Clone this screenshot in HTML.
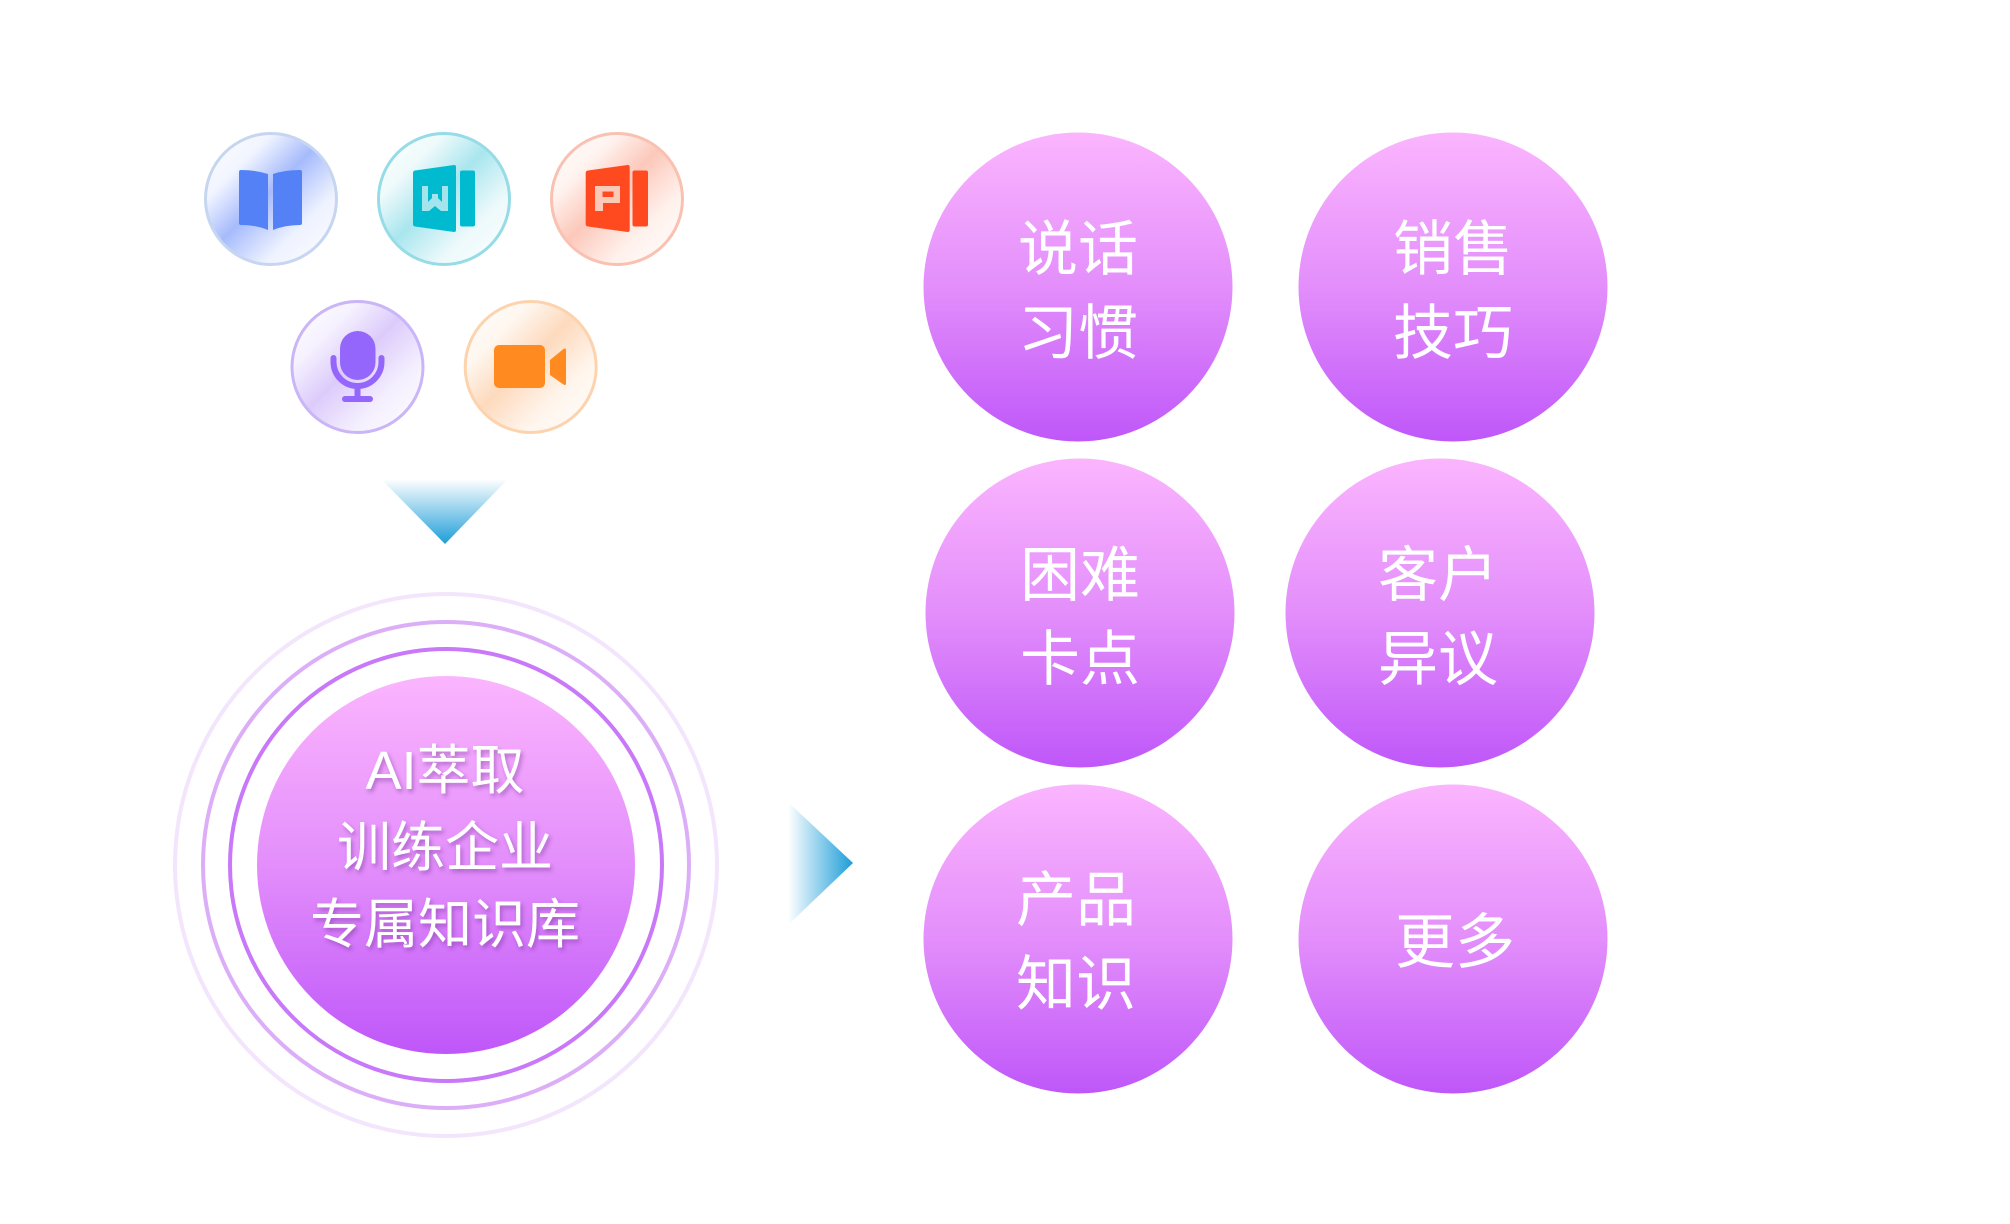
<!DOCTYPE html>
<html>
<head>
<meta charset="utf-8">
<style>
  html, body { margin: 0; padding: 0; background: #ffffff; }
  body { width: 2010px; height: 1224px; overflow: hidden; }
  svg { display: block; }
  .t { font-family: "Liberation Sans", "Noto Sans CJK SC", "WenQuanYi Zen Hei", sans-serif; fill: #ffffff; text-anchor: middle; }
</style>
</head>
<body>
<svg width="2010" height="1224" viewBox="0 0 2010 1224" xmlns="http://www.w3.org/2000/svg">
  <defs>
    <linearGradient id="pg" x1="0" y1="0" x2="0" y2="1">
      <stop offset="0" stop-color="#fbb5fe"/>
      <stop offset="0.5" stop-color="#e38efb"/>
      <stop offset="1" stop-color="#bf57f9"/>
    </linearGradient>
    <linearGradient id="dg" x1="0" y1="0" x2="0" y2="1">
      <stop offset="0" stop-color="#ffffff"/>
      <stop offset="1" stop-color="#1e9ed8"/>
    </linearGradient>
    <linearGradient id="rg" x1="0" y1="0" x2="1" y2="0">
      <stop offset="0" stop-color="#ffffff"/>
      <stop offset="1" stop-color="#1c9dd8"/>
    </linearGradient>
    <linearGradient id="gBlue" x1="0" y1="0" x2="1" y2="1">
      <stop offset="0" stop-color="#ffffff"/>
      <stop offset="0.25" stop-color="#f2f5ff"/>
      <stop offset="0.47" stop-color="#a6bbfc"/>
      <stop offset="0.72" stop-color="#eef2ff"/>
      <stop offset="1" stop-color="#ffffff"/>
    </linearGradient>
    <linearGradient id="gCyan" x1="0" y1="0" x2="1" y2="1">
      <stop offset="0" stop-color="#ffffff"/>
      <stop offset="0.25" stop-color="#effafb"/>
      <stop offset="0.47" stop-color="#a9e6ee"/>
      <stop offset="0.72" stop-color="#ecf9fb"/>
      <stop offset="1" stop-color="#ffffff"/>
    </linearGradient>
    <linearGradient id="gRed" x1="0" y1="0" x2="1" y2="1">
      <stop offset="0" stop-color="#ffffff"/>
      <stop offset="0.25" stop-color="#fff3ef"/>
      <stop offset="0.47" stop-color="#fcc8ba"/>
      <stop offset="0.72" stop-color="#fff1ec"/>
      <stop offset="1" stop-color="#ffffff"/>
    </linearGradient>
    <linearGradient id="gPurple" x1="0" y1="0" x2="1" y2="1">
      <stop offset="0" stop-color="#ffffff"/>
      <stop offset="0.25" stop-color="#f6f2ff"/>
      <stop offset="0.47" stop-color="#dccbfb"/>
      <stop offset="0.72" stop-color="#f4effe"/>
      <stop offset="1" stop-color="#ffffff"/>
    </linearGradient>
    <linearGradient id="gOrange" x1="0" y1="0" x2="1" y2="1">
      <stop offset="0" stop-color="#ffffff"/>
      <stop offset="0.25" stop-color="#fff7f0"/>
      <stop offset="0.47" stop-color="#fddabd"/>
      <stop offset="0.72" stop-color="#fff5ec"/>
      <stop offset="1" stop-color="#ffffff"/>
    </linearGradient>
    <filter id="sh" x="-20%" y="-20%" width="140%" height="140%">
      <feDropShadow dx="2" dy="3" stdDeviation="2" flood-color="#6a2a90" flood-opacity="0.45"/>
    </filter>
  </defs>

  <!-- Book -->
  <circle cx="271" cy="199" r="65.5" fill="url(#gBlue)" stroke="#c6d6f0" stroke-width="3"/>
  <path d="M241,170 Q256,170 268,174 L268,230 Q256,225 241,225 Q239,225 239,223 L239,172 Q239,170 241,170 Z" fill="#5482f6"/>
  <path d="M273,174 Q285,170 300,170 Q302,170 302,172 L302,223 Q302,225 300,225 Q285,225 273,230 Z" fill="#5482f6"/>

  <!-- Word -->
  <circle cx="444" cy="199" r="65.5" fill="url(#gCyan)" stroke="#96dce7" stroke-width="3"/>
  <path d="M415,170.5 L454,165 Q456,164.8 456,167 L456,230 Q456,232 454,232 L415,226.5 Q413,226.3 413,224 L413,173 Q413,170.8 415,170.5 Z" fill="#00bbd0"/>
  <rect x="460" y="170.5" width="15" height="56" rx="2" fill="#00bbd0"/>
  <path d="M422,186 h6 v16 l4,-4 v-4 h6 v4 l4,4 v-16 h6 v25 h-7 l-6,-5 l-6,5 h-7 z" fill="#a4e4ec"/>

  <!-- PPT -->
  <circle cx="617" cy="199" r="65.5" fill="url(#gRed)" stroke="#f9c1b2" stroke-width="3"/>
  <path d="M588,170.5 L627.5,165 Q629.7,164.8 629.7,167 L629.7,230 Q629.7,232 627.5,232 L588,226.5 Q585.7,226.3 585.7,224 L585.7,173 Q585.7,170.8 588,170.5 Z" fill="#ff4a20"/>
  <rect x="632.5" y="170.5" width="15.5" height="56" rx="2" fill="#ff4a20"/>
  <path d="M595,186 h25 v17 h-17 v8 h-8 z M602.5,191.5 v5.5 h11 v-5.5 z" fill="#fcc8b8" fill-rule="evenodd"/>

  <!-- Mic -->
  <circle cx="357.5" cy="367" r="65.5" fill="url(#gPurple)" stroke="#c9b5f7" stroke-width="3"/>
  <rect x="340" y="331" width="35.5" height="49" rx="17.7" fill="#9566fb"/>
  <path d="M333.5,358 v4 a24,24 0 0 0 48,0 v-4" fill="none" stroke="#9566fb" stroke-width="6" stroke-linecap="round"/>
  <rect x="354.5" y="386" width="6" height="12" fill="#9566fb"/>
  <rect x="342" y="396" width="31" height="6" rx="3" fill="#9566fb"/>

  <!-- Video -->
  <circle cx="530.7" cy="367" r="65.5" fill="url(#gOrange)" stroke="#fdd3ae" stroke-width="3"/>
  <rect x="494" y="345" width="51" height="43" rx="5" fill="#ff8a1f"/>
  <path d="M550,360 L563.5,349 Q566,347.5 566,350.5 L566,383 Q566,386 563.5,384.5 L550,375 Z" fill="#ff8a1f"/>

  <!-- Down triangle -->
  <polygon points="381,479 508,479 445,544" fill="url(#dg)"/>

  <!-- Big circle rings -->
  <circle cx="446" cy="865" r="271" fill="none" stroke="#f3e5fc" stroke-width="4"/>
  <circle cx="446" cy="865" r="243" fill="none" stroke="#dcaef8" stroke-width="4"/>
  <circle cx="446" cy="865" r="216" fill="none" stroke="#c878f8" stroke-width="4"/>
  <circle cx="446" cy="865" r="189" fill="url(#pg)"/>
  <g filter="url(#sh)">
    <text class="t" x="445" y="789" font-size="54">AI萃取</text>
    <text class="t" x="445" y="866" font-size="54">训练企业</text>
    <text class="t" x="445" y="943" font-size="54">专属知识库</text>
  </g>

  <!-- Right triangle -->
  <polygon points="788,802 788,925 853,863" fill="url(#rg)"/>

  <!-- Purple circles -->
  <circle cx="1078" cy="287" r="154.5" fill="url(#pg)"/>
  <text class="t" x="1078" y="270" font-size="60">说话</text>
  <text class="t" x="1078" y="354" font-size="60">习惯</text>

  <circle cx="1453" cy="287" r="154.5" fill="url(#pg)"/>
  <text class="t" x="1453" y="270" font-size="60">销售</text>
  <text class="t" x="1453" y="354" font-size="60">技巧</text>

  <circle cx="1080" cy="613" r="154.5" fill="url(#pg)"/>
  <text class="t" x="1080" y="596" font-size="60">困难</text>
  <text class="t" x="1080" y="680" font-size="60">卡点</text>

  <circle cx="1440" cy="613" r="154.5" fill="url(#pg)"/>
  <text class="t" x="1438" y="596" font-size="60">客户</text>
  <text class="t" x="1438" y="680" font-size="60">异议</text>

  <circle cx="1078" cy="939" r="154.5" fill="url(#pg)"/>
  <text class="t" x="1076" y="921" font-size="60">产品</text>
  <text class="t" x="1076" y="1005" font-size="60">知识</text>

  <circle cx="1453" cy="939" r="154.5" fill="url(#pg)"/>
  <text class="t" x="1455" y="963" font-size="60">更多</text>
</svg>
</body>
</html>
